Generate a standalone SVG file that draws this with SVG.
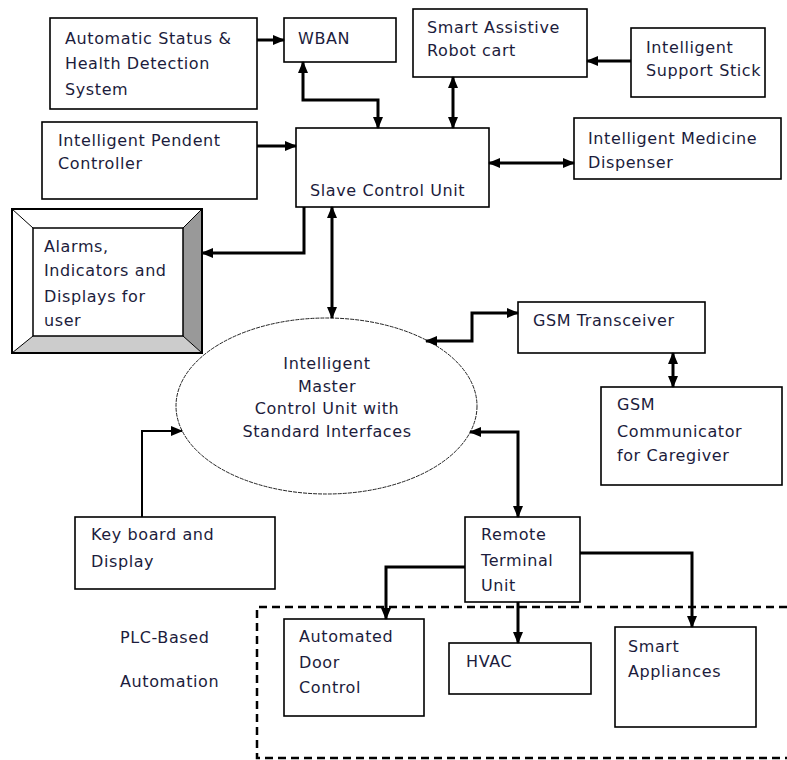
<svg xmlns="http://www.w3.org/2000/svg" width="787" height="760" viewBox="0 0 787 760">
<style>
.box{fill:#fff;stroke:#000;stroke-width:1.6}
.t{font-family:"DejaVu Sans",Verdana,sans-serif;font-size:16px;letter-spacing:0.6px;fill:#1c1c3c}
.c{fill:none;stroke:#000;stroke-width:3}
.thin{stroke-width:2}
</style>
<defs>
<marker id="ah" markerUnits="userSpaceOnUse" markerWidth="12" markerHeight="10" refX="11" refY="5" orient="auto-start-reverse">
<path d="M0,0 L12,5 L0,10 Z" fill="#000"/>
</marker>
</defs>
<rect width="787" height="760" fill="#fff"/>

<g id="auto-status">
<rect class="box" x="50" y="18" width="207" height="91"/>
<text class="t" x="65" y="44">Automatic Status &amp;</text>
<text class="t" x="65" y="69">Health Detection</text>
<text class="t" x="65" y="95">System</text>
</g>
<g id="wban">
<rect class="box" x="284" y="18" width="112" height="44"/>
<text class="t" x="298" y="44">WBAN</text>
</g>
<g id="robot-cart">
<rect class="box" x="413" y="9" width="174" height="68"/>
<text class="t" x="427" y="33">Smart Assistive</text>
<text class="t" x="427" y="56">Robot cart</text>
</g>
<g id="support-stick">
<rect class="box" x="631" y="28" width="134" height="69"/>
<text class="t" x="646" y="53">Intelligent</text>
<text class="t" x="646" y="76">Support Stick</text>
</g>
<g id="pendent">
<rect class="box" x="42" y="122" width="215" height="77"/>
<text class="t" x="58" y="146">Intelligent Pendent</text>
<text class="t" x="58" y="169">Controller</text>
</g>
<g id="slave">
<rect class="box" x="296" y="128" width="193" height="79"/>
<text class="t" x="310" y="196">Slave Control Unit</text>
</g>
<g id="medicine">
<rect class="box" x="574" y="118" width="207" height="61"/>
<text class="t" x="588" y="144">Intelligent  Medicine</text>
<text class="t" x="588" y="168">Dispenser</text>
</g>
<g id="alarms">
<rect x="12" y="209" width="190" height="144" fill="#fff" stroke="#000" stroke-width="2"/>
<polygon points="183,228 202,209 202,353 183,336" fill="#999"/>
<polygon points="33,336 183,336 202,353 12,353" fill="#ccc"/>
<path d="M12,209 L33,228 M202,209 L183,228 M12,353 L33,336 M202,353 L183,336" stroke="#000" stroke-width="1"/>
<rect x="12" y="209" width="190" height="144" fill="none" stroke="#000" stroke-width="2"/>
<rect x="33" y="228" width="150" height="108" fill="#fff" stroke="#000" stroke-width="1.5"/>
<text class="t" x="44" y="252">Alarms,</text>
<text class="t" x="44" y="276">Indicators and</text>
<text class="t" x="44" y="302">Displays for</text>
<text class="t" x="44" y="326">user</text>
</g>
<g id="master">
<ellipse cx="326.5" cy="406" rx="150.5" ry="88" fill="#fff" stroke="#222" stroke-width="1" stroke-dasharray="4 1"/>
<text class="t" x="327" y="369" text-anchor="middle">Intelligent</text>
<text class="t" x="327" y="392" text-anchor="middle">Master</text>
<text class="t" x="327" y="414" text-anchor="middle">Control Unit with</text>
<text class="t" x="327" y="437" text-anchor="middle">Standard Interfaces</text>
</g>
<g id="gsm-transceiver">
<rect class="box" x="518" y="302" width="187" height="51"/>
<text class="t" x="533" y="326">GSM Transceiver</text>
</g>
<g id="gsm-communicator">
<rect class="box" x="601" y="387" width="181" height="98"/>
<text class="t" x="617" y="410">GSM</text>
<text class="t" x="617" y="437">Communicator</text>
<text class="t" x="617" y="461">for Caregiver</text>
</g>
<g id="keyboard">
<rect class="box" x="75" y="517" width="200" height="72"/>
<text class="t" x="91" y="540">Key board and</text>
<text class="t" x="91" y="567">Display</text>
</g>
<g id="rtu">
<rect class="box" x="465" y="517" width="115" height="85"/>
<text class="t" x="481" y="540">Remote</text>
<text class="t" x="481" y="566">Terminal</text>
<text class="t" x="481" y="591">Unit</text>
</g>
<g id="plc">
<path d="M800,607 H257 V758 H800" fill="none" stroke="#000" stroke-width="2.5" stroke-dasharray="8 5"/>
<text class="t" x="120" y="643">PLC-Based</text>
<text class="t" x="120" y="687">Automation</text>
</g>
<g id="door">
<rect class="box" x="284" y="619" width="140" height="97"/>
<text class="t" x="299" y="642">Automated</text>
<text class="t" x="299" y="668">Door</text>
<text class="t" x="299" y="693">Control</text>
</g>
<g id="hvac">
<rect class="box" x="449" y="643" width="142" height="51"/>
<text class="t" x="466" y="667">HVAC</text>
</g>
<g id="appliances">
<rect class="box" x="615" y="627" width="141" height="100"/>
<text class="t" x="628" y="652">Smart</text>
<text class="t" x="628" y="677">Appliances</text>
</g>

<g id="connectors">
<path class="c" d="M257,40 H284" marker-end="url(#ah)"/>
<path class="c" d="M303,62 V100 H378 V128" marker-start="url(#ah)" marker-end="url(#ah)"/>
<path class="c" d="M257,146 H296" marker-end="url(#ah)"/>
<path class="c" d="M631,61 H587" marker-end="url(#ah)"/>
<path class="c" d="M453,77 V128" marker-start="url(#ah)" marker-end="url(#ah)"/>
<path class="c" d="M489,163 H574" marker-start="url(#ah)" marker-end="url(#ah)"/>
<path class="c" d="M304,207 V253 H202" marker-end="url(#ah)"/>
<path class="c" d="M332,207 V318" marker-start="url(#ah)" marker-end="url(#ah)"/>
<path class="c" d="M426,341 H472 V313 H518" marker-start="url(#ah)" marker-end="url(#ah)"/>
<path class="c" d="M673,353 V387" marker-start="url(#ah)" marker-end="url(#ah)"/>
<path class="c" d="M470,432 H518 V517" marker-start="url(#ah)" marker-end="url(#ah)"/>
<path class="c thin" d="M142,517 V431 H182" marker-end="url(#ah)"/>
<path class="c" d="M465,567 H386 V619" marker-end="url(#ah)"/>
<path class="c" d="M518,602 V643" marker-end="url(#ah)"/>
<path class="c" d="M580,553 H692 V627" marker-end="url(#ah)"/>
</g>
</svg>
